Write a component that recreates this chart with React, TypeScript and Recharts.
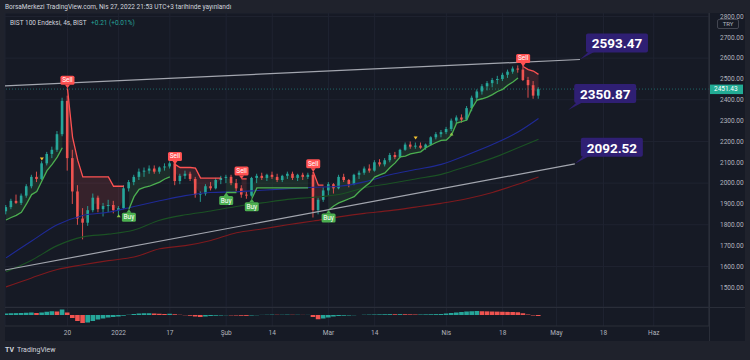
import React from 'react';
import {
  ComposedChart,
  Bar,
  Line,
  Area,
  XAxis,
  YAxis,
  CartesianGrid,
  ReferenceLine,
  ReferenceDot,
  Cell,
} from 'recharts';

const N = null;

// gunluk mumlar (4s grafigin gunluk ozeti), Ara 2 2021 -> Nis 27 2022
const opens = [
  1865, 1885, 1915, 1905, 1940, 1985, 2030, 2020, 2095, 2140,
  2160, 2235, 2395, 2120, 1960, 1830, 1810, 1870, 1930, 1875,
  1890, 1895, 1870, 1880, 1975, 2005, 2030, 2055, 2060, 2070,
  2055, 2075, 2080, 2095, 2010, 2035, 2045, 2020, 1945, 1950,
  1985, 1975, 2015, 2025, 2030, 2000, 1975, 1945, 1940, 2025,
  2035, 2025, 2040, 2030, 2015, 2035, 2045, 2025, 2040, 2030,
  2040, 1870, 1920, 1965, 1995, 1975, 2030, 2015, 1995, 2040,
  2050, 2070, 2060, 2100, 2090, 2110, 2135, 2125, 2160, 2185,
  2175, 2180, 2170, 2185, 2220, 2235, 2245, 2260, 2300, 2315,
  2305, 2360, 2410, 2440, 2465, 2480, 2495, 2500, 2520, 2535,
  2550, 2545, 2495, 2470, 2420,
];
const highs = [
  1895, 1925, 1945, 1950, 1995, 2040, 2055, 2105, 2150, 2175,
  2250, 2410, 2420, 2160, 1990, 1880, 1890, 1950, 1940, 1905,
  1920, 1915, 1890, 1990, 2015, 2040, 2070, 2075, 2085, 2085,
  2080, 2095, 2105, 2100, 2045, 2060, 2055, 2030, 1960, 1995,
  2005, 2025, 2035, 2040, 2040, 2020, 1990, 1960, 2030, 2045,
  2050, 2045, 2055, 2045, 2040, 2055, 2055, 2045, 2050, 2050,
  2055, 1930, 1980, 2005, 2000, 2040, 2045, 2020, 2045, 2060,
  2080, 2090, 2110, 2115, 2120, 2145, 2150, 2165, 2195, 2200,
  2195, 2195, 2190, 2225, 2245, 2255, 2270, 2310, 2325, 2330,
  2370, 2420, 2450, 2475, 2490, 2505, 2515, 2530, 2545, 2560,
  2565, 2570, 2510, 2490, 2460,
];
const lows = [
  1850, 1875, 1900, 1895, 1930, 1975, 2005, 2015, 2085, 2120,
  2150, 2225, 2060, 1900, 1800, 1730, 1795, 1860, 1860, 1840,
  1860, 1855, 1845, 1875, 1960, 1990, 2015, 2030, 2045, 2045,
  2045, 2060, 2070, 1990, 1995, 2020, 2010, 1930, 1910, 1940,
  1965, 1970, 1995, 2000, 1990, 1960, 1930, 1925, 1935, 2000,
  2015, 2010, 2020, 2005, 2005, 2020, 2015, 2010, 2015, 2020,
  1835, 1850, 1910, 1940, 1950, 1970, 2005, 1980, 1990, 2020,
  2040, 2050, 2055, 2080, 2080, 2100, 2115, 2120, 2155, 2165,
  2165, 2165, 2160, 2180, 2210, 2220, 2235, 2250, 2285, 2290,
  2300, 2345, 2395, 2425, 2445, 2460, 2475, 2490, 2505, 2525,
  2530, 2490, 2410, 2405, 2405,
];
const closes = [
  1885, 1915, 1905, 1940, 1985, 2030, 2020, 2095, 2140, 2160,
  2235, 2395, 2120, 1960, 1830, 1810, 1870, 1930, 1875, 1890,
  1895, 1870, 1880, 1975, 2005, 2030, 2055, 2060, 2070, 2055,
  2075, 2080, 2095, 2010, 2035, 2045, 2020, 1945, 1950, 1985,
  1975, 2015, 2025, 2030, 2000, 1975, 1945, 1940, 2025, 2035,
  2025, 2040, 2030, 2015, 2035, 2045, 2025, 2040, 2030, 2040,
  1870, 1920, 1965, 1995, 1975, 2030, 2015, 1995, 2040, 2050,
  2070, 2060, 2100, 2090, 2110, 2135, 2125, 2160, 2185, 2175,
  2180, 2170, 2185, 2220, 2235, 2245, 2260, 2300, 2315, 2305,
  2360, 2410, 2440, 2465, 2480, 2495, 2500, 2520, 2535, 2550,
  2545, 2495, 2470, 2420, 2451.43,
];

// supertrend
const stUp: (number | null)[] = [
  1823, 1835, 1845, 1860, 1900, 1945, 1960, 2010, 2060, 2090, 2125, 2170,
  N, N, N, N, N, N, N, N, N, N, N, N,
  1875, 1935, 1970, 1980, 1985, 1995, 2005, 2020, 2030,
  N, N, N, N, N, N, N, N, N, N,
  1955, 1955, 1955,
  N, N,
  1925, 1977, 1977, 1977, 1977, 1977, 1977, 1977, 1977, 1977, 1977, 1977,
  N, N, N,
  1871, 1890, 1905, 1915, 1925, 1935, 1960, 1981, 2000, 2029, 2040, 2049,
  2075, 2097, 2126, 2130, 2140, 2145, 2150, 2170, 2183, 2195, 2205, 2207,
  2230, 2288, 2295, 2303, 2360, 2399, 2405, 2413, 2425, 2440, 2450, 2470, 2485, 2505,
  N, N, N, N,
];
const stDown: (number | null)[] = [
  N, N, N, N, N, N, N, N, N, N, N, N,
  2455, 2220, 2110, 2030, 2030, 2030, 2030, 2030, 2030, 1985, 1985, 1985,
  N, N, N, N, N, N, N, N, N,
  2090, 2075, 2075, 2075, 2072, 2024, 2024, 2024, 2024, 2024,
  N, N, N,
  2020, 2020,
  N, N, N, N, N, N, N, N, N, N, N, N,
  2055, 1990, 1990,
  N, N, N, N, N, N, N, N, N, N, N, N, N, N, N, N, N, N, N,
  N, N, N, N, N, N, N, N, N, N, N, N, N, N, N, N, N, N, N,
  2560, 2545, 2538, 2522,
];
const sellAt = [12, 33, 46, 60, 101];
const buyAt = [24, 43, 48, 63];

// hareketli ortalamalar
const maDays = [0, 5, 10, 15, 20, 25, 30, 35, 40, 45, 50, 55, 60, 65, 70, 75, 80, 85, 90, 95, 100, 104];
const ma50 = [1641, 1722, 1800, 1845, 1860, 1888, 1915, 1940, 1955, 1958, 1966, 1973, 1980, 1985, 2006, 2040, 2065, 2090, 2135, 2185, 2245, 2310];
const ma100 = [1574, 1630, 1700, 1742, 1755, 1775, 1822, 1848, 1866, 1888, 1905, 1922, 1932, 1945, 1978, 1998, 2020, 2042, 2080, 2120, 2170, 2211];
const ma200 = [1502, 1545, 1585, 1608, 1628, 1645, 1685, 1700, 1725, 1762, 1780, 1800, 1818, 1838, 1855, 1868, 1885, 1903, 1925, 1955, 1995, 2030];

const macdHist = [
  6, 7, 7.5, 8, 9, 10, 8, 10, 13, 15, 14, 22,
  10, -12, -24, -32, -30, -24, -18, -14, -10, -8, -6, -3,
  1, 4, 6, 7, 7, 6, 5, 4, 5, 3, 1, -1,
  -3, -6, -8, -6, -4, -3, -2, -1, -1.5, -2, -3, -3.5,
  -2, -1, 0.5, 1, 1.5, 1, 1, 1.5, 1, 1, 0.5, 0.5,
  -8, -17, -14, -10, -6, -4, -3, -2, -1, 0, 1, 1.5,
  2, 2.5, 3, 3.5, 3, 3.5, 3, 2.5, 2, 2, 2.5, 3, 3.5, 4,
  6, 8, 10, 12, 14, 15, 16, 15, 14.5, 14, 13.5, 13, 12.5, 12, 11, 7, 2, -2, -4,
];

const yellowIdx = [7, 80];
const yellowPrice = [2116, 2217];
const greenIdx = [22, 87];
const greenPrice = [1843, 2236];

// trend cizgileri ve etiketler
const upperTrend = [{ x: -0.2, y: 2467 }, { x: 112.1, y: 2593.47 }];
const lowerTrend = [{ x: -0.2, y: 1583 }, { x: 111.1, y: 2092.52 }];
const calloutIdx = [112.1, 109.8, 111.1];
const calloutPrice = [2593.47, 2350.87, 2092.52];
const lastPrice = 2451.43;

const timeTicks = [12, 22, 32, 43, 52, 63, 72, 86, 97, 107.5, 116.7, 126.5];
const timeLabels = ['20', '2022', '17', 'Şub', '14', 'Mar', '14', 'Nis', '18', 'May', '18', 'Haz'];
const priceTicks = [1500, 1600, 1700, 1800, 1900, 2000, 2100, 2200, 2300, 2400, 2500, 2600, 2700, 2800];

const X_DOMAIN: [number, number] = [-0.2, 137.3];
const FRAME = '#1f222c';
const BG = '#161a25';
const GRID = '#1f2331';
const SEP = '#2a2e39';
const TXT = '#b2b5be';
const UP = '#26a69a';
const DOWN = '#ef5350';
const ST_UP = '#4caf50';
const ST_DN = '#ff5252';
const PURPLE = '#2f1f73';
const FONT = 'Roboto, "Noto Sans", sans-serif';

const rows = opens.map((o, i) => {
  const k = maDays.indexOf(i);
  return {
    i,
    o,
    h: highs[i],
    l: lows[i],
    c: closes[i],
    mid: (o + closes[i]) / 2,
    stUp: stUp[i],
    stDown: stDown[i],
    ma50: k >= 0 ? ma50[k] : null,
    ma100: k >= 0 ? ma100[k] : null,
    ma200: k >= 0 ? ma200[k] : null,
    hist: macdHist[i],
  };
});

const Candle = (p: any) => {
  const { x, y, width, height, payload } = p;
  if (x == null || y == null) return null;
  const top = Math.min(y, y + height);
  const bot = Math.max(y, y + height);
  const span = payload.h - payload.l;
  const py = (v: number) => (span === 0 ? top : top + ((payload.h - v) / span) * (bot - top));
  const up = payload.c >= payload.o;
  const col = up ? UP : DOWN;
  const cx = x + width / 2;
  const bt = py(Math.max(payload.o, payload.c));
  const bb = py(Math.min(payload.o, payload.c));
  return (
    <g>
      <line x1={cx} x2={cx} y1={top} y2={bot} stroke={col} strokeWidth={0.9} />
      <rect x={x} y={bt} width={width} height={Math.max(1, bb - bt)} fill={col} />
    </g>
  );
};

const SellTag = ({ cx, cy }: any) => (
  <g>
    <path d={`M${cx - 2.5},${cy - 3.5} L${cx + 2.5},${cy - 3.5} L${cx},${cy} Z`} fill={ST_DN} />
    <rect x={cx - 7} y={cy - 12.5} width={14} height={9} rx={1.5} fill={ST_DN} />
    <text x={cx} y={cy - 8} textAnchor="middle" dominantBaseline="central" fill="#fff" fontSize={6.5} fontFamily={FONT}>
      Sell
    </text>
  </g>
);

const BuyTag = ({ cx, cy }: any) => (
  <g>
    <path d={`M${cx - 2.5},${cy + 3.5} L${cx + 2.5},${cy + 3.5} L${cx},${cy} Z`} fill={ST_UP} />
    <rect x={cx - 7} y={cy + 3.5} width={14} height={9} rx={1.5} fill={ST_UP} />
    <text x={cx} y={cy + 8} textAnchor="middle" dominantBaseline="central" fill="#fff" fontSize={6.5} fontFamily={FONT}>
      Buy
    </text>
  </g>
);

const DownMark = ({ cx, cy }: any) => (
  <path d={`M${cx - 2},${cy - 1.5} L${cx + 2},${cy - 1.5} L${cx},${cy + 1.5} Z`} fill="#f7c531" />
);
const UpMark = ({ cx, cy }: any) => (
  <path d={`M${cx - 2},${cy + 1.5} L${cx + 2},${cy + 1.5} L${cx},${cy - 1.5} Z`} fill="#8bc34a" />
);

const Callout = ({ cx, cy, text }: any) => (
  <g>
    <path d={`M${cx},${cy} L${cx + 9},${cy - 8} L${cx + 15},${cy - 8} Z`} fill={PURPLE} />
    <rect x={cx + 6} y={cy - 26} width={62} height={19} rx={2} fill={PURPLE} />
    <text x={cx + 37} y={cy - 16.3} textAnchor="middle" dominantBaseline="central" fill="#fff" fontSize={13.5} fontWeight="bold" fontFamily={FONT}>
      {text}
    </text>
  </g>
);

const PriceTag = (props: any) => {
  const vb = props.viewBox || {};
  const x = vb.x + vb.width;
  const y = vb.y;
  return (
    <g>
      <rect x={x} y={y - 4.5} width={34} height={9.5} fill="#22ab94" />
      <text x={x + 5} y={y + 0.3} dominantBaseline="central" fill="#fff" fontSize={6.5} fontFamily={FONT}>
        {lastPrice.toFixed(2)}
      </text>
    </g>
  );
};

export default function App() {
  return (
    <div style={{ position: 'absolute', left: 0, top: 0, width: 750, height: 360, background: FRAME, overflow: 'hidden', fontFamily: FONT }}>
      <div style={{ position: 'absolute', left: 5, top: 13, width: 740, height: 328, background: BG }} />

      <div style={{ position: 'absolute', left: 0, top: 0 }}>
        <ComposedChart width={750} height={308} data={rows} margin={{ top: 13, right: 5, bottom: 1, left: 5 }}>
          <CartesianGrid stroke={GRID} strokeWidth={1} />
          <XAxis dataKey="i" type="number" domain={X_DOMAIN} ticks={timeTicks} hide allowDataOverflow />
          <YAxis
            orientation="right"
            width={36}
            domain={[1405.4, 2816.6]}
            ticks={priceTicks}
            allowDataOverflow
            tickFormatter={(v: number) => v.toFixed(2)}
            tick={{ fill: TXT, fontSize: 6.5, fontFamily: FONT }}
            tickLine={false}
            axisLine={{ stroke: SEP }}
            tickMargin={5}
          />

          <Line dataKey="ma200" stroke="#7e1a1e" strokeWidth={1.1} dot={false} connectNulls isAnimationActive={false} type="monotone" />
          <Line dataKey="ma100" stroke="#1b5224" strokeWidth={1.1} dot={false} connectNulls isAnimationActive={false} type="monotone" />
          <Line dataKey="ma50" stroke="#1f2a96" strokeWidth={1.1} dot={false} connectNulls isAnimationActive={false} type="monotone" />

          <Area
            dataKey={(d: any) => (d.stUp == null ? null : [d.mid, d.stUp])}
            stroke="none"
            fill="rgba(76,175,80,0.13)"
            fillOpacity={1}
            type="linear"
            isAnimationActive={false}
          />
          <Area
            dataKey={(d: any) => (d.stDown == null ? null : [d.mid, d.stDown])}
            stroke="none"
            fill="rgba(255,82,82,0.14)"
            fillOpacity={1}
            type="linear"
            isAnimationActive={false}
          />

          <ReferenceLine y={lastPrice} stroke={UP} strokeOpacity={0.55} strokeDasharray="1 2" label={<PriceTag />} />

          <Bar dataKey={(d: any) => [d.l, d.h]} barSize={2.6} shape={<Candle />} isAnimationActive={false} />

          <Line dataKey="stUp" stroke={ST_UP} strokeWidth={1.3} dot={false} isAnimationActive={false} type="linear" />
          <Line dataKey="stDown" stroke={ST_DN} strokeWidth={1.3} dot={false} isAnimationActive={false} type="linear" />

          <ReferenceLine segment={upperTrend} stroke="#a3a6af" strokeWidth={1.2} ifOverflow="hidden" />
          <ReferenceLine segment={lowerTrend} stroke="#a3a6af" strokeWidth={1.2} ifOverflow="hidden" />

          {yellowIdx.map((ix, k) => (
            <ReferenceDot key={`y${k}`} x={ix} y={yellowPrice[k]} shape={(p: any) => <DownMark {...p} />} />
          ))}
          {greenIdx.map((ix, k) => (
            <ReferenceDot key={`g${k}`} x={ix} y={greenPrice[k]} shape={(p: any) => <UpMark {...p} />} />
          ))}
          {sellAt.map((ix) => (
            <ReferenceDot key={`s${ix}`} x={ix} y={stDown[ix] as number} shape={(p: any) => <SellTag {...p} />} />
          ))}
          {buyAt.map((ix) => (
            <ReferenceDot key={`b${ix}`} x={ix} y={stUp[ix] as number} shape={(p: any) => <BuyTag {...p} />} />
          ))}
          {calloutIdx.map((ix, k) => (
            <ReferenceDot
              key={`c${k}`}
              x={ix}
              y={calloutPrice[k]}
              shape={(p: any) => <Callout {...p} text={calloutPrice[k].toFixed(2)} />}
            />
          ))}
        </ComposedChart>
      </div>

      <div style={{ position: 'absolute', left: 0, top: 308 }}>
        <ComposedChart width={750} height={33} data={rows} margin={{ top: 0, right: 5, bottom: 0, left: 5 }}>
          <CartesianGrid stroke={GRID} horizontal={false} />
          <XAxis
            dataKey="i"
            type="number"
            domain={X_DOMAIN}
            ticks={timeTicks}
            interval={0}
            allowDataOverflow
            height={15}
            tickFormatter={(v: number) => timeLabels[timeTicks.indexOf(v)]}
            tick={{ fill: TXT, fontSize: 6.5, fontFamily: FONT }}
            tickLine={false}
            tickSize={0}
            tickMargin={4}
            axisLine={{ stroke: SEP }}
          />
          <YAxis
            orientation="right"
            width={36}
            domain={[-44, 28]}
            ticks={[0]}
            allowDataOverflow
            tickFormatter={() => '0.00'}
            tick={{ fill: TXT, fontSize: 6.5, fontFamily: FONT }}
            tickLine={false}
            axisLine={{ stroke: SEP }}
            tickMargin={5}
          />
          <Bar dataKey="hist" barSize={5.2} isAnimationActive={false}>
            {rows.map((r, k) => (
              <Cell key={k} fill={k > 0 && r.hist < rows[k - 1].hist ? DOWN : UP} />
            ))}
          </Bar>
        </ComposedChart>
      </div>

      <div style={{ position: 'absolute', left: 5, top: 307, width: 740, height: 1, background: SEP }} />
      <div style={{ position: 'absolute', left: 709, top: 13, width: 1, height: 328, background: SEP }} />

      <div style={{ position: 'absolute', left: 0, top: 0, width: 750, height: 13, background: FRAME }} />
      <div style={{ position: 'absolute', left: 5, top: 3, fontSize: 6.5, color: '#d1d4dc', whiteSpace: 'nowrap' }}>
        BorsaMerkezi TradingView.com, Nis 27, 2022 21:53 UTC+3 tarihinde yayınlandı
      </div>
      <div style={{ position: 'absolute', left: 10, top: 19, fontSize: 6.5, color: '#d1d4dc', whiteSpace: 'nowrap' }}>
        BIST 100 Endeksi, 4s, BIST <span style={{ color: UP, marginLeft: 3 }}>+0.21 (+0.01%)</span>
      </div>
      <div
        style={{
          position: 'absolute',
          left: 717,
          top: 19,
          width: 20,
          height: 8,
          border: `1px solid #434651`,
          borderRadius: 2,
          fontSize: 6,
          color: TXT,
          textAlign: 'center',
          lineHeight: '8px',
        }}
      >
        TRY
      </div>
      <div style={{ position: 'absolute', left: 5, top: 346, fontSize: 7, color: '#d1d4dc', whiteSpace: 'nowrap' }}>
        <span style={{ fontWeight: 'bold', marginRight: 3 }}>TV</span>TradingView
      </div>
    </div>
  );
}
